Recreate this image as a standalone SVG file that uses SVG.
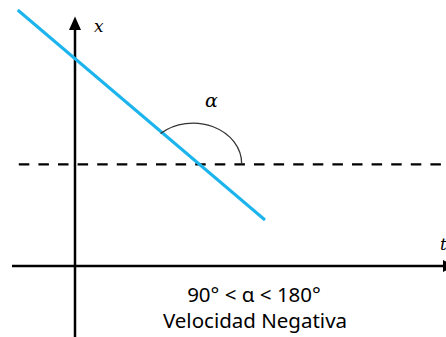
<svg xmlns="http://www.w3.org/2000/svg" width="446" height="337" viewBox="0 0 446 337">
<style>
.axis{stroke:#000;stroke-width:2.5;fill:none}
.dash{stroke:#000;stroke-width:2.2;fill:none;stroke-dasharray:10.5 9.1;stroke-dashoffset:12.8}
.vel{stroke:#1BB4EC;stroke-width:3;fill:none}
.arc{stroke:#333;stroke-width:1.3;fill:none}
.math{font-family:"DejaVu Serif","Liberation Serif",serif;font-style:italic;fill:#000}
.lbl{font-family:"Noto Sans","Open Sans",sans-serif;font-size:20.5px;fill:#000;text-anchor:middle}
</style>
<g id="connectors">
<line class="axis" x1="75" y1="337" x2="75" y2="28"/>
<polygon points="75,16.5 69,30 81,30" fill="#000"/>
<line class="axis" x1="12" y1="266" x2="446" y2="266"/>
<polygon points="443,260 443,272 455,266" fill="#000"/>
<line class="dash" x1="12" y1="164.3" x2="446" y2="164.3"/>
<line class="vel" x1="17.7" y1="10" x2="265" y2="220"/>
<path class="arc" d="M 160.5 133.5 A 48.7 40.7 0 0 1 241.7 164.3"/>
</g>
<g id="label-x"><text class="math" x="94" y="32" font-size="17">x</text></g>
<g id="label-t"><text class="math" x="440" y="250" font-size="17">t</text></g>
<g id="label-alpha"><text class="math" x="205" y="107" font-size="19">α</text></g>
<g id="caption">
<text class="lbl" x="254" y="301.5">90° &lt; α &lt; 180°</text>
<text class="lbl" x="255" y="328">Velocidad Negativa</text>
</g>
</svg>
